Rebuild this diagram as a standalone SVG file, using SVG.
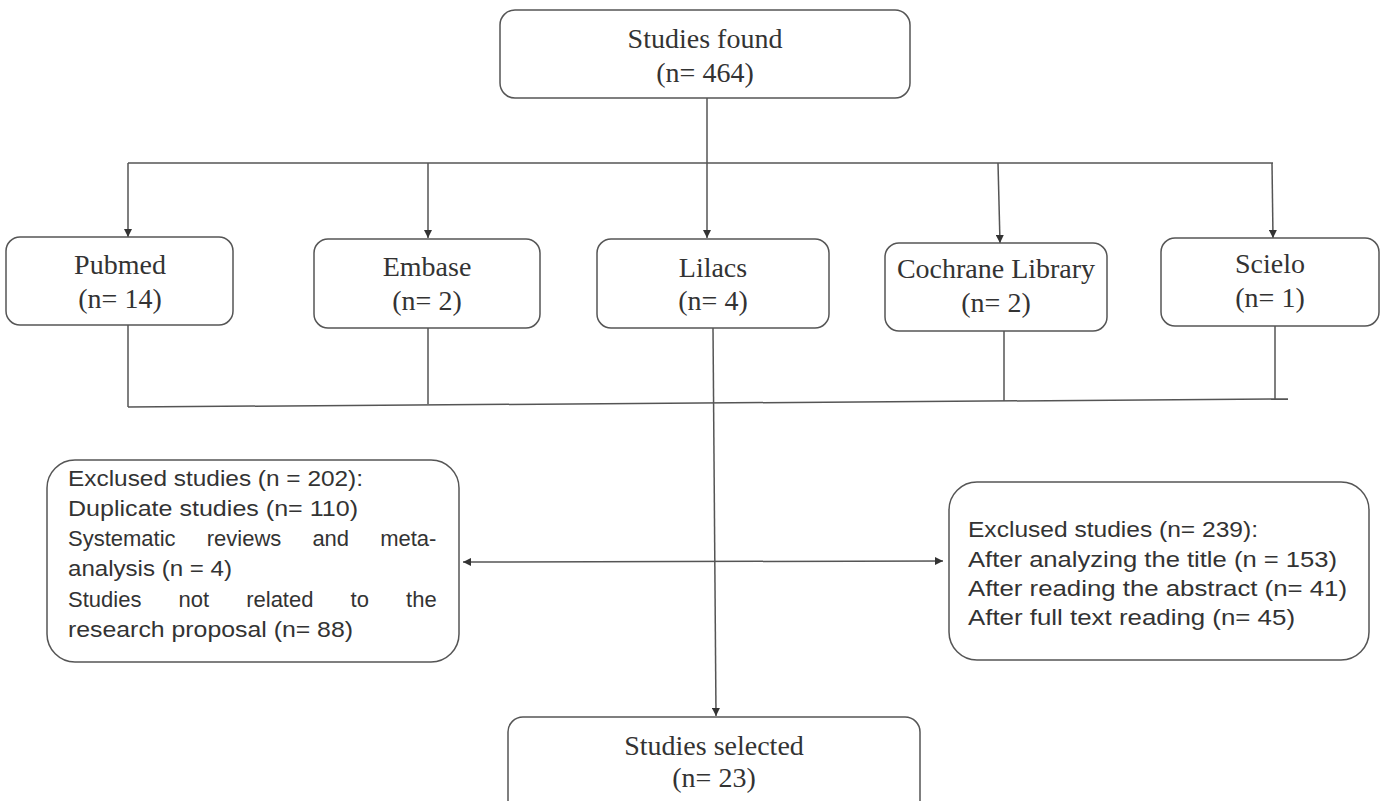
<svg xmlns="http://www.w3.org/2000/svg" width="1400" height="801" viewBox="0 0 1400 801">
<style>
.box{fill:#fff;stroke:#555;stroke-width:1.5}
.t{font-family:"Liberation Serif","Times New Roman",serif;font-size:28px;fill:#333;text-anchor:middle}
.s{font-family:"Liberation Sans",Arial,sans-serif;font-size:22px;fill:#333}
.ln{stroke:#555;stroke-width:1.5;fill:none}
</style>
<defs>
<marker id="ah" viewBox="0 0 10 10" refX="10" refY="5" markerWidth="8" markerHeight="8" markerUnits="userSpaceOnUse" orient="auto-start-reverse">
<path d="M0,0 L10,5 L0,10 z" fill="#333"/>
</marker>
</defs>
<rect width="1400" height="801" fill="#fff"/>
<g id="connectors">
<line class="ln" x1="707" y1="98" x2="707" y2="238" marker-end="url(#ah)"/>
<line class="ln" x1="128" y1="163" x2="1273" y2="163"/>
<line class="ln" x1="128" y1="163" x2="128" y2="237" marker-end="url(#ah)"/>
<line class="ln" x1="428" y1="163" x2="428" y2="238" marker-end="url(#ah)"/>
<line class="ln" x1="998" y1="163" x2="1000" y2="243" marker-end="url(#ah)"/>
<line class="ln" x1="1272" y1="163" x2="1273" y2="238" marker-end="url(#ah)"/>
<line class="ln" x1="128" y1="325" x2="128" y2="407"/>
<line class="ln" x1="428" y1="328" x2="428" y2="404"/>
<line class="ln" x1="1004" y1="331" x2="1004" y2="401"/>
<line class="ln" x1="1275" y1="326" x2="1275" y2="399"/>
<line class="ln" x1="128" y1="407" x2="1288" y2="399"/>
<line class="ln" x1="713" y1="328" x2="716" y2="716" marker-end="url(#ah)"/>
<line class="ln" x1="463" y1="562" x2="943" y2="561" marker-start="url(#ah)" marker-end="url(#ah)"/>
</g>
<g id="found">
<rect class="box" x="500" y="10" width="410" height="88" rx="15"/>
<text class="t" x="705" y="48">Studies found</text>
<text class="t" x="705" y="82">(n= 464)</text>
</g>
<g id="pubmed">
<rect class="box" x="6" y="237" width="227" height="88" rx="14"/>
<text class="t" x="120" y="274">Pubmed</text>
<text class="t" x="120" y="308">(n= 14)</text>
</g>
<g id="embase">
<rect class="box" x="314" y="239" width="226" height="89" rx="14"/>
<text class="t" x="427" y="276">Embase</text>
<text class="t" x="427" y="310">(n= 2)</text>
</g>
<g id="lilacs">
<rect class="box" x="597" y="239" width="232" height="89" rx="14"/>
<text class="t" x="713" y="277">Lilacs</text>
<text class="t" x="713" y="310">(n= 4)</text>
</g>
<g id="cochrane">
<rect class="box" x="885" y="243" width="222" height="88" rx="14"/>
<text class="t" x="996" y="278">Cochrane Library</text>
<text class="t" x="996" y="312">(n= 2)</text>
</g>
<g id="scielo">
<rect class="box" x="1161" y="238" width="218" height="88" rx="14"/>
<text class="t" x="1270" y="273">Scielo</text>
<text class="t" x="1270" y="307">(n= 1)</text>
</g>
<g id="excluded-left">
<rect class="box" x="47" y="460" width="412" height="202" rx="28"/>
<text class="s" x="68" y="486" textLength="295" lengthAdjust="spacingAndGlyphs">Exclused studies (n = 202):</text>
<text class="s" x="68" y="516" textLength="290" lengthAdjust="spacingAndGlyphs">Duplicate studies (n= 110)</text>
<text class="s" x="68" y="546" word-spacing="25">Systematic reviews and meta-</text>
<text class="s" x="68" y="576" textLength="164" lengthAdjust="spacingAndGlyphs">analysis (n = 4)</text>
<text class="s" x="68" y="607" word-spacing="31">Studies not related to the</text>
<text class="s" x="68" y="637" textLength="285" lengthAdjust="spacingAndGlyphs">research proposal (n= 88)</text>
</g>
<g id="excluded-right">
<rect class="box" x="949" y="482" width="420" height="178" rx="28"/>
<text class="s" x="968" y="537" textLength="290" lengthAdjust="spacingAndGlyphs">Exclused studies (n= 239):</text>
<text class="s" x="968" y="567" textLength="369" lengthAdjust="spacingAndGlyphs">After analyzing the title (n = 153)</text>
<text class="s" x="968" y="596" textLength="379" lengthAdjust="spacingAndGlyphs">After reading  the abstract (n= 41)</text>
<text class="s" x="968" y="625" textLength="327" lengthAdjust="spacingAndGlyphs">After full text reading (n= 45)</text>
</g>
<g id="selected">
<rect class="box" x="508" y="717" width="412" height="100" rx="15"/>
<text class="t" x="714" y="755">Studies selected</text>
<text class="t" x="714" y="787">(n= 23)</text>
</g>
</svg>
